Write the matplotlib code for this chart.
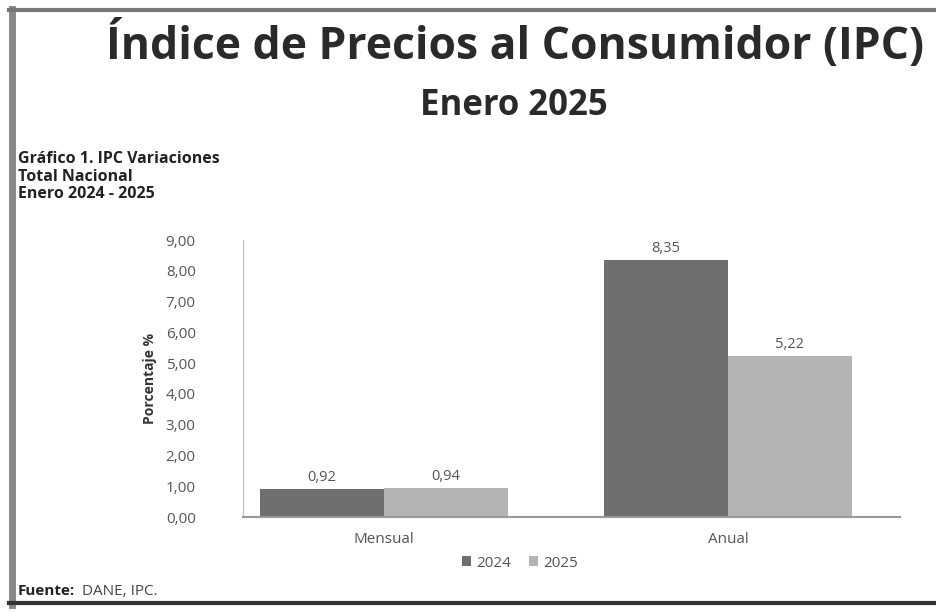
import matplotlib.pyplot as plt
import matplotlib.ticker as mticker
from matplotlib.lines import Line2D
import numpy as np

plt.rcParams['font.family'] = ['Open Sans', 'DejaVu Sans']

categorias = ['Mensual', 'Anual']
anios = ['2024', '2025']
valores_2024 = [0.92, 8.35]
valores_2025 = [0.94, 5.22]
colores = ['#6f6f6f', '#b4b4b4']

fig = plt.figure(figsize=(9.37, 6.12), dpi=100)
ax = fig.add_axes([0.2593, 0.1552, 0.7012, 0.4526])

x = np.arange(len(categorias))
w = 0.36
b1 = ax.bar(x - w / 2, valores_2024, w, color=colores[0], label=anios[0])
b2 = ax.bar(x + w / 2, valores_2025, w, color=colores[1], label=anios[1])

for bars in (b1, b2):
    for r in bars:
        ax.annotate('{:.2f}'.format(r.get_height()).replace('.', ','),
                    (r.get_x() + r.get_width() / 2, r.get_height()),
                    xytext=(0, 3), textcoords='offset points',
                    ha='center', va='bottom', fontsize=10.5, color='#555555')

ax.set_ylim(0, 9)
ax.set_xlim(-0.41, 1.5)
ax.set_yticks(np.arange(0, 10, 1))
ax.yaxis.set_major_formatter(mticker.FuncFormatter(lambda v, p: '{:.2f}'.format(v).replace('.', ',')))
ax.set_xticks(x)
ax.set_xticklabels(categorias)
ax.tick_params(axis='both', length=0, labelsize=11, labelcolor='#555555')
ax.tick_params(axis='y', pad=34)
ax.tick_params(axis='x', pad=11)
for s in ['top', 'right']:
    ax.spines[s].set_visible(False)
ax.spines['left'].set_color('#bbbbbb')
ax.spines['bottom'].set_color('#999999')
ax.spines['bottom'].set_linewidth(1.5)
ax.set_ylabel('Porcentaje %', fontsize=10, fontweight='bold', color='#333333', labelpad=6)

ax.legend(loc='center', bbox_to_anchor=(0.555, 0.08), bbox_transform=fig.transFigure,
          ncol=2, frameon=False, fontsize=11, handlelength=0.6, handleheight=0.6,
          columnspacing=1.2, handletextpad=0.3, labelcolor='#555555')

fig.text(0.55, 0.926, 'Índice de Precios al Consumidor (IPC)', ha='center', va='center',
         fontsize=32, fontweight='bold', color='#2a2a2a')
fig.text(0.548, 0.826, 'Enero 2025', ha='center', va='center',
         fontsize=25, fontweight='bold', color='#2a2a2a')

fig.text(0.019, 0.734, 'Gráfico 1. IPC Variaciones', fontsize=11.5, fontweight='bold', color='#222222')
fig.text(0.019, 0.705, 'Total Nacional', fontsize=11.5, fontweight='bold', color='#222222')
fig.text(0.019, 0.676, 'Enero 2024 - 2025', fontsize=11.5, fontweight='bold', color='#222222')
fig.text(0.019, 0.027, 'Fuente:', fontsize=11, fontweight='bold', color='#222222')
fig.text(0.087, 0.027, 'DANE, IPC.', fontsize=11, color='#444444')

# marco del documento escaneado
fig.add_artist(Line2D([0.013, 0.013], [0.012, 0.985], color='#888888', lw=5))
fig.add_artist(Line2D([0.01, 1.0], [0.983, 0.983], color='#777777', lw=3))
fig.add_artist(Line2D([0.01, 1.0], [0.014, 0.014], color='#333333', lw=3))

fig.savefig('out.png', dpi=100)
